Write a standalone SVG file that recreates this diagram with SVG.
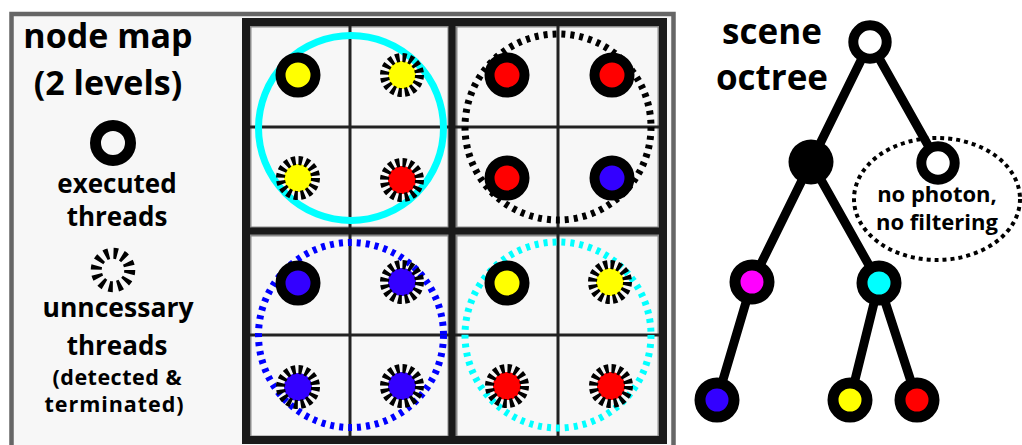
<svg xmlns="http://www.w3.org/2000/svg" width="1022" height="445" viewBox="0 0 1022 445">
<style>
.t{font-family:"Open Sans","DejaVu Sans",sans-serif;font-weight:700;fill:#000;text-anchor:middle}
.exec{stroke:#000;stroke-width:10}
.dr{fill:none;stroke:#000;stroke-width:9;stroke-dasharray:3.9 2.97}
.thin{stroke:#222;stroke-width:3}
.thick{stroke:#1a1a1a;stroke-width:7}
.qb{fill:none;stroke:#8a8a8a;stroke-width:3}
.big{fill:none;stroke-width:7}
.dot{stroke-dasharray:4 5}
.edge{stroke:#000;stroke-width:9;stroke-linecap:round}
.tn{stroke:#000;stroke-width:11}
</style>
<rect x="0" y="0" width="1022" height="445" fill="#fff"/>
<g id="frame">
<rect x="11.5" y="14" width="662" height="440" fill="#f7f7f7" stroke="#666" stroke-width="4.5"/>
</g>
<g id="legend">
<text class="t" x="108" y="48" font-size="34">node map</text>
<text class="t" x="108" y="95" font-size="34">(2 levels)</text>
<circle cx="113" cy="143" r="17.5" fill="#f7f7f7" stroke="#000" stroke-width="11"/>
<text class="t" x="117" y="193" font-size="26">executed</text>
<text class="t" x="117" y="226" font-size="26">threads</text>
<circle cx="113" cy="270" r="16.75" fill="none" stroke="#000" stroke-width="11" stroke-dasharray="4 4.77"/>
<text class="t" x="118" y="317" font-size="26.5">unncessary</text>
<text class="t" x="117" y="355" font-size="26">threads</text>
<text class="t" x="117" y="385" font-size="21.5" textLength="129" lengthAdjust="spacing">(detected &amp;</text>
<text class="t" x="114" y="412" font-size="21.5" textLength="139" lengthAdjust="spacing">terminated)</text>
</g>
<g id="grid">
<rect x="250" y="26" width="199" height="202" class="qb"/>
<rect x="456" y="26" width="203" height="202" class="qb"/>
<rect x="250" y="235" width="199" height="202" class="qb"/>
<rect x="456" y="235" width="203" height="202" class="qb"/>
<line x1="350" y1="22" x2="350" y2="440" class="thin"/>
<line x1="558" y1="22" x2="558" y2="440" class="thin"/>
<line x1="246" y1="127" x2="664" y2="127" class="thin"/>
<line x1="246" y1="335" x2="664" y2="335" class="thin"/>
<line x1="452" y1="22" x2="452" y2="440" class="thick"/>
<line x1="246" y1="231" x2="664" y2="231" class="thick"/>
<rect x="246" y="22" width="417" height="418" fill="none" stroke="#1a1a1a" stroke-width="8"/>
</g>
<g id="quadrant-tl">
<circle cx="351" cy="128" r="92.5" class="big" stroke="#00ffff"/>
<circle cx="298" cy="75" r="17.5" fill="#ffff00" class="exec"/>
<circle cx="402" cy="75" r="14" fill="#ffff00"/><circle cx="402" cy="75" r="17.5" class="dr"/>
<circle cx="298" cy="178" r="14" fill="#ffff00"/><circle cx="298" cy="178" r="17.5" class="dr"/>
<circle cx="402" cy="180" r="14" fill="#ff0000"/><circle cx="402" cy="180" r="17.5" class="dr"/>
</g>
<g id="quadrant-tr">
<circle cx="558" cy="127" r="93" class="big dot" stroke="#000"/>
<circle cx="507" cy="75" r="17.5" fill="#ff0000" class="exec"/>
<circle cx="612" cy="75" r="17.5" fill="#ff0000" class="exec"/>
<circle cx="507" cy="178" r="17.5" fill="#ff0000" class="exec"/>
<circle cx="612" cy="178" r="17.5" fill="#3300ff" class="exec"/>
</g>
<g id="quadrant-bl">
<circle cx="351" cy="335" r="92.5" class="big dot" stroke="#0000ff"/>
<circle cx="298" cy="283" r="17.5" fill="#3300ff" class="exec"/>
<circle cx="402" cy="282" r="14" fill="#3300ff"/><circle cx="402" cy="282" r="17.5" class="dr"/>
<circle cx="298" cy="387" r="14" fill="#3300ff"/><circle cx="298" cy="387" r="17.5" class="dr"/>
<circle cx="402" cy="386" r="14" fill="#3300ff"/><circle cx="402" cy="386" r="17.5" class="dr"/>
</g>
<g id="quadrant-br">
<circle cx="558" cy="335" r="93" class="big dot" stroke="#00ffff"/>
<circle cx="507" cy="283" r="17.5" fill="#ffff00" class="exec"/>
<circle cx="610" cy="282" r="14" fill="#ffff00"/><circle cx="610" cy="282" r="17.5" class="dr"/>
<circle cx="507" cy="386" r="14" fill="#ff0000"/><circle cx="507" cy="386" r="17.5" class="dr"/>
<circle cx="611" cy="386" r="14" fill="#ff0000"/><circle cx="611" cy="386" r="17.5" class="dr"/>
</g>
<g id="octree-title">
<text class="t" x="772" y="44" font-size="35">scene</text>
<text class="t" x="772" y="90" font-size="35">octree</text>
</g>
<g id="note">
<ellipse cx="937" cy="199" rx="83" ry="61" fill="none" stroke="#000" stroke-width="4" stroke-dasharray="4 4"/>
<text class="t" x="937" y="202" font-size="22">no photon,</text>
<text class="t" x="937" y="230" font-size="22">no filtering</text>
</g>
<g id="connectors">
<line x1="870" y1="42" x2="811" y2="162" class="edge"/>
<line x1="870" y1="42" x2="938" y2="163" class="edge"/>
<line x1="811" y1="162" x2="752" y2="282" class="edge"/>
<line x1="811" y1="162" x2="879" y2="283" class="edge"/>
<line x1="752" y1="282" x2="717" y2="400" class="edge"/>
<line x1="879" y1="283" x2="850" y2="400" class="edge"/>
<line x1="879" y1="283" x2="917" y2="400" class="edge"/>
</g>
<g id="root"><circle cx="870" cy="42" r="16.7" fill="#fff" stroke="#000" stroke-width="10"/></g>
<g id="inner"><circle cx="811" cy="162" r="22.5" fill="#000"/></g>
<g id="empty"><circle cx="938" cy="163" r="16.7" fill="#fff" stroke="#000" stroke-width="10"/></g>
<g id="magenta"><circle cx="752" cy="282" r="17" fill="#ff00ff" class="tn"/></g>
<g id="cyan"><circle cx="879" cy="283" r="17" fill="#00ffff" class="tn"/></g>
<g id="blue"><circle cx="717" cy="400" r="17" fill="#3300ff" class="tn"/></g>
<g id="yellow"><circle cx="850" cy="400" r="17" fill="#ffff00" class="tn"/></g>
<g id="red"><circle cx="917" cy="400" r="17" fill="#ff0000" class="tn"/></g>
</svg>
